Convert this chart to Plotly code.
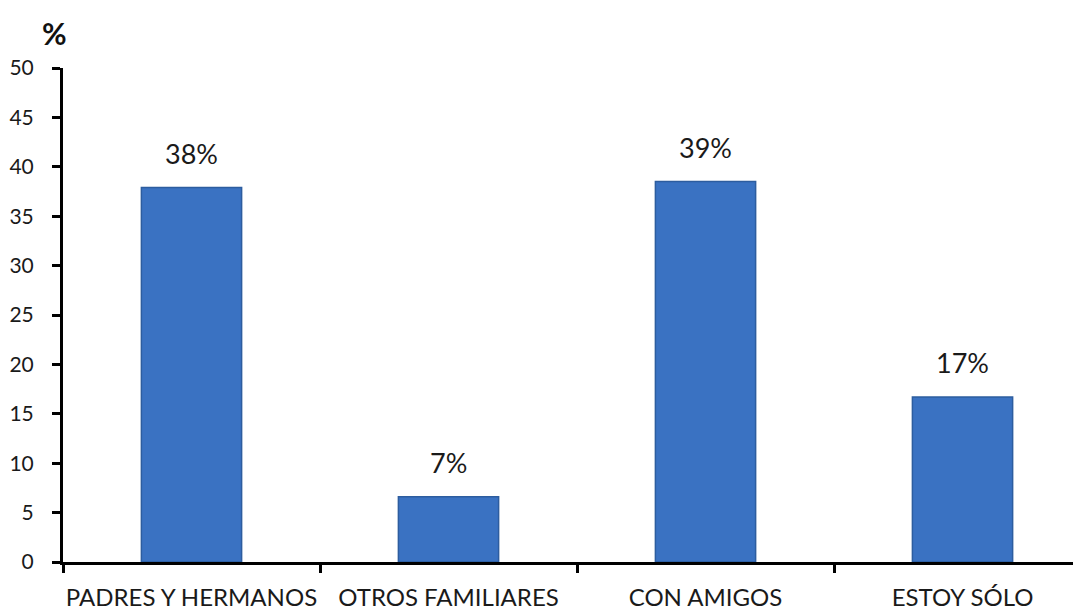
import plotly.graph_objects as go

categories = ["PADRES Y HERMANOS", "OTROS FAMILIARES", "CON AMIGOS", "ESTOY SÓLO"]
values = [37.9, 6.6, 38.5, 16.7]
labels = ["38%", "7%", "39%", "17%"]
y_ticks = [0, 5, 10, 15, 20, 25, 30, 35, 40, 45, 50]

FONT = "Lato, 'Open Sans', sans-serif"

fig = go.Figure()
fig.add_trace(go.Bar(
    x=categories, y=values,
    width=0.39,
    marker=dict(color="#3a72c2", line=dict(color="#2d5d9f", width=1.5)),
    hoverinfo="skip",
))

for c, v, t in zip(categories, values, labels):
    fig.add_annotation(x=c, y=v, text=t, showarrow=False, yanchor="bottom",
                       yshift=16, font=dict(family=FONT, size=27, color="#1a1a1a"))

fig.add_annotation(xref="paper", yref="paper", x=-0.008, y=1.0, yshift=16,
                   xanchor="center", yanchor="bottom", text="<b>%</b>", showarrow=False,
                   borderpad=0,
                   font=dict(family=FONT, size=30, color="#111111"))

# page body has an 8px default margin, so the figure is sized/offset to compensate
fig.update_layout(
    width=1073, height=603,
    margin=dict(l=55, r=0, t=60, b=49),
    paper_bgcolor="white", plot_bgcolor="white",
    showlegend=False,
    bargap=0.61,
    font=dict(family=FONT, color="#1a1a1a"),
)
fig.update_xaxes(
    type="category",
    range=[-0.5, 3.461],
    tickson="boundaries",
    tickangle=0,
    ticks="outside", ticklen=8, tickwidth=3, tickcolor="black",
    showline=True, linecolor="black", linewidth=3,
    showgrid=False, zeroline=False,
    tickfont=dict(family=FONT, size=24, color="#1a1a1a"),
    ticklabelstandoff=12,
    automargin=False,
)
fig.update_yaxes(
    range=[0, 50],
    tickvals=y_ticks,
    ticks="outside", ticklen=8, tickwidth=3, tickcolor="black",
    showline=True, linecolor="black", linewidth=3,
    showgrid=False, zeroline=False,
    tickfont=dict(family=FONT, size=21, color="#1a1a1a"),
    ticklabelstandoff=14,
    automargin=False,
)

fig.write_html("out.html")
